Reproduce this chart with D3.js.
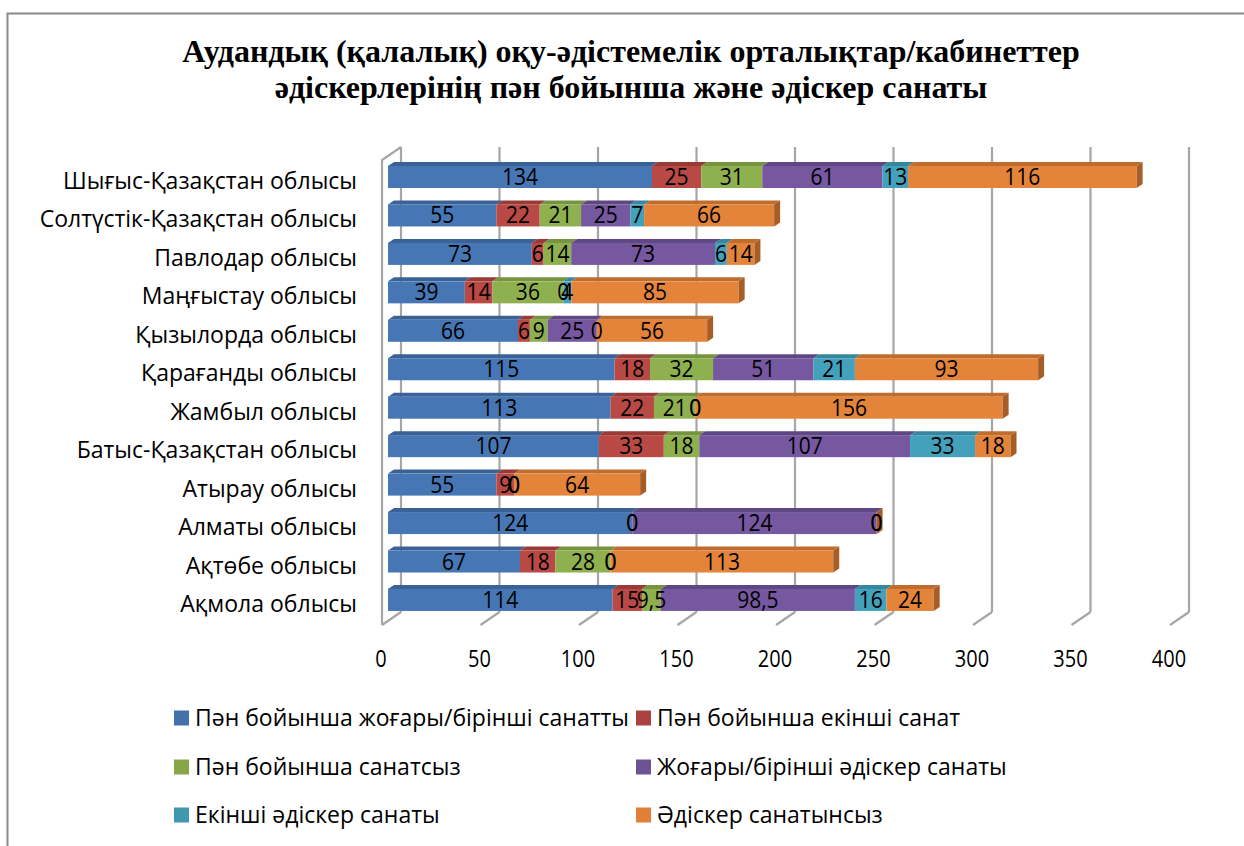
<!DOCTYPE html>
<html>
<head>
<meta charset="utf-8">
<script src="https://cdn.jsdelivr.net/npm/d3@7"></script>
<style>
  html, body { margin: 0; padding: 0; background: #fff; }
  svg { display: block; }
</style>
</head>
<body>
<svg id="chart" width="1244" height="846"></svg>
<script>
// Regions, listed top to bottom as they appear on the chart
const regions = [
  "Шығыс-Қазақстан облысы",
  "Солтүстік-Қазақстан облысы",
  "Павлодар облысы",
  "Маңғыстау облысы",
  "Қызылорда облысы",
  "Қарағанды облысы",
  "Жамбыл облысы",
  "Батыс-Қазақстан облысы",
  "Атырау облысы ",
  "Алматы облысы",
  "Ақтөбе облысы ",
  "Ақмола облысы"
];

// One array per series, aligned with regions (null = no segment / no label)
const subjectHighFirst  = [134, 55, 73, 39, 66, 115, 113, 107, 55, 124, 67, 114];
const subjectSecond     = [25, 22, 6, 14, 6, 18, 22, 33, 9, 0, 18, 15];
const subjectNone       = [31, 21, 14, 36, 9, 32, 21, 18, 0, 0, 28, 9.5];
const methodHighFirst   = [61, 25, 73, 0, 25, 51, 0, 107, 0, 124, 0, 98.5];
const methodSecond      = [13, 7, 6, 4, 0, 21, 0, 33, 0, 0, 0, 16];
const methodNone        = [116, 66, 14, 85, 56, 93, 156, 18, 64, 0, 113, 24];

const seriesNames = [
  "Пән бойынша жоғары/бірінші санатты",
  "Пән бойынша екінші санат",
  "Пән бойынша санатсыз",
  "Жоғары/бірінші әдіскер санаты",
  "Екінші әдіскер санаты",
  "Әдіскер санатынсыз"
];
const seriesValues = [subjectHighFirst, subjectSecond, subjectNone, methodHighFirst, methodSecond, methodNone];

const axisTicks = [0, 50, 100, 150, 200, 250, 300, 350, 400];

const titleLines = [
  "Аудандық (қалалық) оқу-әдістемелік орталықтар/кабинеттер",
  "әдіскерлерінің пән бойынша және әдіскер санаты"
];

// Face colours for each series: front, top, side
const frontColors = ["#4677b4", "#b94945", "#8fb04f", "#7558a0", "#43a1bc", "#e4843a"];
const topColors   = ["#3a6296", "#9a3a37", "#769340", "#5f4784", "#36869d", "#bf6c2d"];
const sideColors  = ["#335787", "#86322f", "#678139", "#523d73", "#2f7589", "#a65e26"];
const legendColors = ["#4471aa", "#aa4340", "#88a54a", "#6c5393", "#3f98b0", "#e07f35"];

const svg = d3.select("#chart");
const SANS = "'Open Sans', 'Noto Sans', sans-serif";

const fmt = d3.formatLocale({decimal: ",", thousands: " ", grouping: [3], currency: ["", ""]}).format("~r");

// text placed through a transform so it can be stretched vertically
function stretched(parent, x, y, sy) {
  return parent.append("g").attr("transform", `translate(${x},${y}) scale(1,${sy})`).append("text");
}

// outer frame
svg.append("rect").attr("x", 7.5).attr("y", 13.5).attr("width", 1260).attr("height", 860)
  .attr("fill", "none").attr("stroke", "#8a8a8a").attr("stroke-width", 2);

// title
titleLines.forEach((t, i) => {
  svg.append("text")
    .attr("x", 631).attr("y", 62 + i * 36)
    .attr("text-anchor", "middle")
    .attr("font-family", "'Liberation Serif', 'Times New Roman', serif")
    .attr("font-weight", "bold")
    .attr("font-size", 32)
    .attr("fill", "#000")
    .text(t);
});

// geometry of the 3D box
const frontX0 = 382, floorFrontY = 625;
const depth = {dx: 19, dy: -13};
const barDepth = {dx: 6, dy: -4};
const barOffset = 6; // front face of bars sits this far behind the front edge

const x = d3.scaleLinear().domain([0, 400]).range([0, 788]);
const y = d3.scalePoint().domain(regions).range([177, 177 + 11 * 38.45]);
const barH = 22;

const wallTopY = 160;
const grid = svg.append("g").attr("stroke", "#a6a6a6").attr("stroke-width", 2.2).attr("fill", "none");

// back-wall gridlines + floor ticks
axisTicks.forEach(v => {
  const fx = frontX0 + x(v);
  const bx = fx + depth.dx;
  grid.append("line").attr("x1", bx).attr("x2", bx)
    .attr("y1", wallTopY + depth.dy).attr("y2", floorFrontY + depth.dy);
  grid.append("line").attr("x1", fx).attr("y1", floorFrontY)
    .attr("x2", bx).attr("y2", floorFrontY + depth.dy);
});
// left side wall edge
grid.append("path").attr("d",
  `M${frontX0 + depth.dx},${wallTopY + depth.dy} L${frontX0},${wallTopY} L${frontX0},${floorFrontY}`);

// stacked 3D bars
const barsG = svg.append("g");
const labelsG = svg.append("g");
regions.forEach((r, ri) => {
  let cum = 0;
  const yTop = y(r) - barH / 2;
  const segs = [];
  seriesValues.forEach((vals, si) => {
    const v = vals[ri];
    if (v === null || v === undefined) return;
    segs.push({si, v, start: cum, end: cum + v});
    cum += v;
  });
  const bx0 = frontX0 + barOffset;
  segs.forEach(s => {
    const x0 = bx0 + x(s.start), x1 = bx0 + x(s.end);
    if (s.v > 0) {
      // top face
      barsG.append("path")
        .attr("d", `M${x0},${yTop} L${x0 + barDepth.dx},${yTop + barDepth.dy} L${x1 + barDepth.dx},${yTop + barDepth.dy} L${x1},${yTop} Z`)
        .attr("fill", topColors[s.si]);
      // front face
      barsG.append("rect").attr("x", x0).attr("y", yTop).attr("width", x1 - x0).attr("height", barH)
        .attr("fill", frontColors[s.si]);
    }
  });
  // side face on the far end of the stack, in the colour of the last series
  const last = segs[segs.length - 1];
  if (last) {
    const xe = bx0 + x(cum);
    barsG.append("path")
      .attr("d", `M${xe},${yTop} L${xe + barDepth.dx},${yTop + barDepth.dy} L${xe + barDepth.dx},${yTop + barH + barDepth.dy} L${xe},${yTop + barH} Z`)
      .attr("fill", sideColors[last.si]);
  }
  // value labels
  segs.forEach(s => {
    const cx = bx0 + x((s.start + s.end) / 2);
    stretched(labelsG, cx, y(r) + 8, 1.1)
      .attr("text-anchor", "middle")
      .attr("font-family", SANS)
      .attr("font-size", 21)
      .attr("fill", "#000")
      .text(fmt(s.v));
  });
  // category label
  stretched(svg, 357, y(r) + 12, 1.0)
    .attr("text-anchor", "end")
    .attr("font-family", SANS)
    .attr("font-size", 23)
    .attr("fill", "#000")
    .text(r);
});

// axis tick labels
axisTicks.forEach(v => {
  stretched(svg, frontX0 + x(v) - 1, 667, 1.17)
    .attr("text-anchor", "middle")
    .attr("font-family", SANS)
    .attr("font-size", 20)
    .attr("fill", "#000")
    .text(v);
});

// legend
const legendPos = [
  [174, 718], [636, 718],
  [174, 767], [636, 767],
  [174, 815], [636, 815]
];
seriesNames.forEach((n, i) => {
  const [lx, ly] = legendPos[i];
  svg.append("rect").attr("x", lx).attr("y", ly - 7.5).attr("width", 15).attr("height", 15)
    .attr("fill", legendColors[i]);
  stretched(svg, lx + 21, ly + 8, 1.0)
    .attr("font-family", SANS)
    .attr("font-size", 23)
    .attr("fill", "#000")
    .text(n);
});
</script>
</body>
</html>
